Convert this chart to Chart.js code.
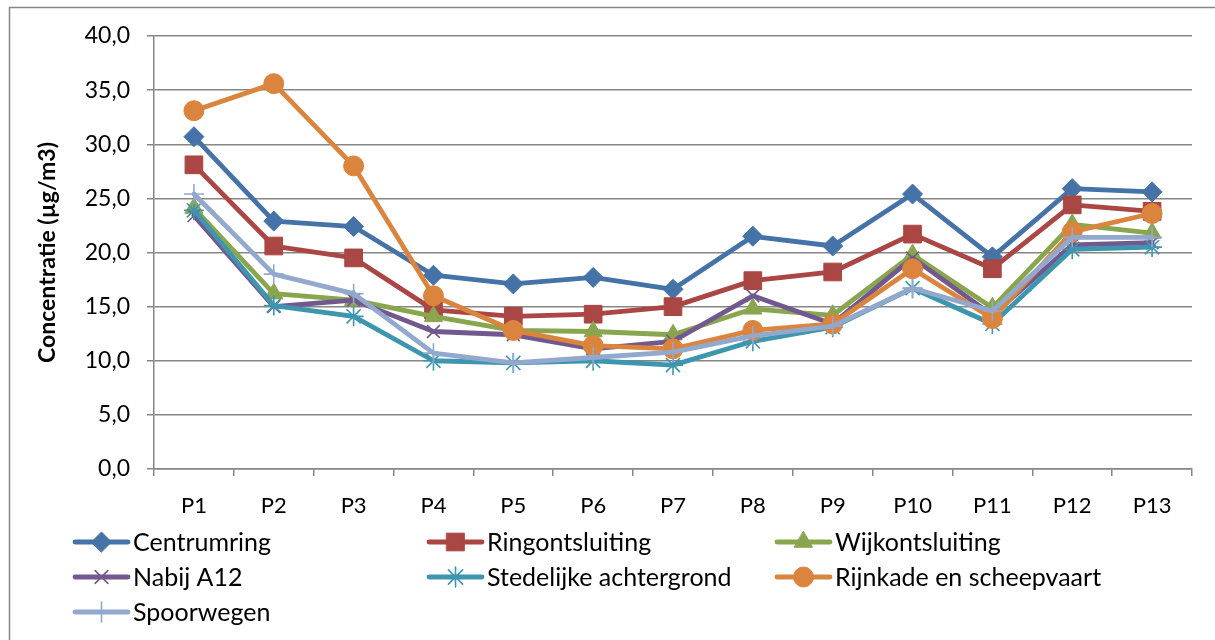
<!DOCTYPE html>
<html>
<head>
<meta charset="utf-8">
<script src="https://cdn.jsdelivr.net/npm/chart.js@4.4.1/dist/chart.umd.min.js"></script>
<style>
body{margin:0;background:#fff}
#wrap{width:1215px;height:640px;position:relative}
</style>
</head>
<body>
<div id="wrap"><canvas id="chart" width="1215" height="640"></canvas></div>
<script>
// categories and series
const labels=['P1','P2','P3','P4','P5','P6','P7','P8','P9','P10','P11','P12','P13'];
const centrumring=[30.7,22.9,22.4,17.9,17.1,17.7,16.6,21.5,20.6,25.4,19.6,25.9,25.6];
const ringontsluiting=[28.1,20.6,19.5,14.7,14.1,14.3,15.0,17.4,18.2,21.7,18.5,24.4,23.8];
const wijkontsluiting=[24.1,16.2,15.6,14.1,12.8,12.7,12.4,14.8,14.2,19.8,14.9,22.6,21.8];
const nabijA12=[23.4,15.0,15.6,12.7,12.4,11.1,11.8,16.0,13.4,19.5,14.2,20.7,20.9];
const stedelijke=[23.9,15.1,14.1,10.0,9.8,10.0,9.6,11.8,13.1,16.7,13.4,20.3,20.5];
const rijnkade=[33.1,35.6,28.0,16.0,12.8,11.4,11.1,12.8,13.4,18.5,13.9,21.9,23.6];
const spoorwegen=[25.4,18.0,16.2,10.7,9.8,10.3,10.8,12.3,13.2,16.7,14.6,21.4,21.4];
const yTicks=[0,5,10,15,20,25,30,35,40];

const font='Lato, "DejaVu Sans", sans-serif';
const gridGray='#868686';

function series(label,data,color,style,radius,bw){
    return {
        label:label,
        data:data,
        borderColor:color,
        backgroundColor:color,
        borderWidth:4.8,
        borderCapStyle:'round',
        borderJoinStyle:'round',
        pointStyle:style,
        pointRadius:radius,
        pointHoverRadius:radius,
        pointBackgroundColor:color,
        pointBorderColor:color,
        pointBorderWidth:bw,
        tension:0
    };
}

const datasets=[
    series('Centrumring',centrumring,'#4572A7','rectRot',10,1),
    series('Ringontsluiting',ringontsluiting,'#AA4643','rect',12.5,1),
    series('Wijkontsluiting',wijkontsluiting,'#89A54E','triangle',10.5,1),
    series('Nabij A12',nabijA12,'#71588F','crossRot',9,1.6),
    series('Stedelijke achtergrond',stedelijke,'#3D96AE','star',10,1.6),
    series('Rijnkade en scheepvaart',rijnkade,'#DB843D','circle',10,1),
    series('Spoorwegen',spoorwegen,'#92A8CD','cross',10,1.6)
];
// last series on top, like the spreadsheet
datasets.forEach((d,i)=>{d.order=datasets.length-i;});

// legend laid out in 3 columns under the plot
const legendPlugin={
    id:'gridLegend',
    beforeDraw(chart){
        const ctx=chart.ctx;
        ctx.save();
        ctx.strokeStyle=gridGray;
        ctx.lineWidth=1.5;
        ctx.strokeRect(9.5,7.5,1215,640);
        ctx.restore();
    },
    afterDraw(chart){
        const ctx=chart.ctx;
        const colX=[75,429,777];
        const rowY=[542,577,612];
        chart.data.datasets.forEach((ds,i)=>{
            const x=colX[i%3], y=rowY[Math.floor(i/3)];
            ctx.save();
            ctx.strokeStyle=ds.borderColor;
            ctx.lineWidth=ds.borderWidth;
            ctx.lineCap='round';
            ctx.beginPath();
            ctx.moveTo(x,y);
            ctx.lineTo(x+53,y);
            ctx.stroke();
            ctx.fillStyle=ds.pointBackgroundColor;
            ctx.strokeStyle=ds.pointBorderColor;
            ctx.lineWidth=ds.pointBorderWidth;
            Chart.helpers.drawPoint(ctx,{pointStyle:ds.pointStyle,radius:ds.pointRadius,borderWidth:ds.pointBorderWidth,rotation:0},x+26.5,y);
            ctx.fillStyle='#000';
            ctx.font='25px '+font;
            ctx.textBaseline='middle';
            ctx.textAlign='left';
            ctx.fillText(ds.label,x+58,y+1);
            ctx.restore();
        });
    }
};

new Chart(document.getElementById('chart').getContext('2d'),{
    type:'line',
    data:{labels:labels,datasets:datasets},
    options:{
        responsive:false,
        animation:false,
        layout:{padding:{top:36,right:23,bottom:0,left:0}},
        plugins:{legend:{display:false},tooltip:{enabled:false}},
        scales:{
            x:{
                offset:true,
                grid:{offset:true,drawOnChartArea:false,drawTicks:true,tickLength:7,color:gridGray,lineWidth:1.5},
                border:{color:gridGray,width:1.5},
                ticks:{color:'#000',font:{family:font,size:22},padding:17,maxRotation:0,autoSkip:false},
                afterFit(scale){scale.height=171;}
            },
            y:{
                min:0,max:40,
                afterBuildTicks(scale){scale.ticks=yTicks.map(v=>({value:v}));},
                grid:{color:gridGray,lineWidth:1.5,tickLength:7},
                border:{color:gridGray,width:1.5},
                ticks:{color:'#000',font:{family:font,size:23},padding:17,
                    callback:v=>v.toFixed(1).replace('.',',')},
                title:{display:true,text:'Concentratie (µg/m3)',color:'#000',
                    font:{family:font,size:23,weight:'bold'},padding:{top:34,bottom:0}},
                afterFit(scale){scale.width=154;}
            }
        }
    },
    plugins:[legendPlugin]
});
</script>
</body>
</html>
